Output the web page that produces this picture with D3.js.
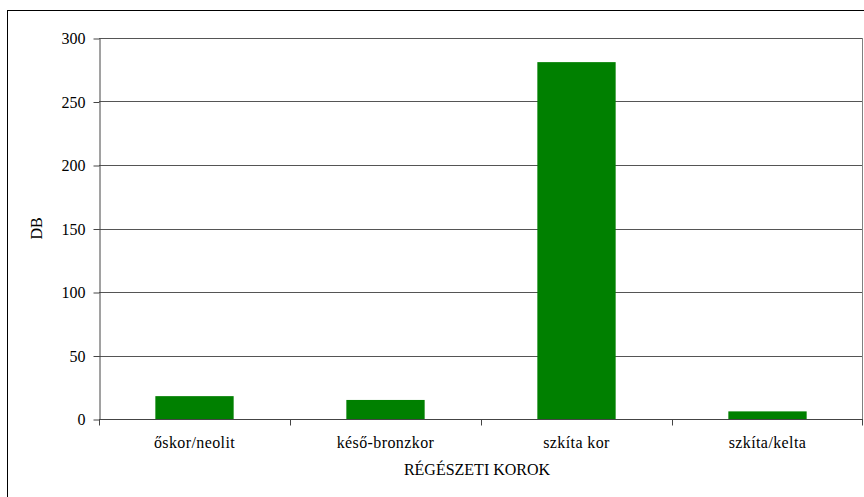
<!DOCTYPE html>
<html>
<head>
<meta charset="utf-8">
<script src="https://cdn.jsdelivr.net/npm/d3@7"></script>
<style>
  html, body { margin: 0; padding: 0; background: #fff; }
  svg { display: block; }
</style>
</head>
<body>
<script>
// Leletek száma régészeti korok szerint
const categories = ["őskor/neolit", "késő-bronzkor", "szkíta kor", "szkíta/kelta"];
const counts = [18, 15, 281, 6];
const yTicks = [0, 50, 100, 150, 200, 250, 300];
const yTitle = "DB";
const xTitle = "RÉGÉSZETI KOROK";

const W = 864, H = 497;
const plot = { left: 99, right: 863, top: 38, bottom: 419 };
const FONT = "'Liberation Serif', 'Times New Roman', Times, serif";

const svg = d3.select("body").append("svg")
  .attr("width", W).attr("height", H)
  .style("font-family", FONT);

// outer chart frame
svg.append("rect")
  .attr("x", 7.5).attr("y", 10.5)
  .attr("width", 900).attr("height", 600)
  .attr("fill", "#fff").attr("stroke", "#000").attr("stroke-width", 1);

const x = d3.scaleBand().domain(categories)
  .range([plot.left, plot.right]).paddingInner(0.59).paddingOuter(0.295);
const xOuter = d3.scaleBand().domain(categories)
  .range([plot.left, plot.right]);
const y = d3.scaleLinear().domain([0, 300]).range([plot.bottom, plot.top]);

// horizontal gridlines
svg.append("g").selectAll("line")
  .data(yTicks.filter(d => d > 0))
  .join("line")
  .attr("x1", plot.left).attr("x2", plot.right)
  .attr("y1", d => Math.round(y(d)) + 0.5).attr("y2", d => Math.round(y(d)) + 0.5)
  .attr("stroke", "#555").attr("stroke-width", 1);

// right border of plot area
svg.append("line")
  .attr("x1", plot.right - 0.5).attr("x2", plot.right - 0.5)
  .attr("y1", plot.top).attr("y2", plot.bottom)
  .attr("stroke", "#808080").attr("stroke-width", 1);

// bars
svg.append("g").selectAll("rect")
  .data(categories)
  .join("rect")
  .attr("x", d => x(d))
  .attr("width", x.bandwidth())
  .attr("y", (d, i) => y(counts[i]))
  .attr("height", (d, i) => y(0) - y(counts[i]))
  .attr("fill", "#008000");

// y axis
const yAxis = d3.axisLeft(y).tickValues(yTicks).tickSize(6).tickPadding(8).tickSizeOuter(0);
const gy = svg.append("g")
  .attr("transform", `translate(${plot.left + 0.5},0.5)`)
  .call(yAxis)
  .attr("font-family", null).attr("font-size", null);
gy.select(".domain").attr("stroke", "#444");
gy.selectAll(".tick line").attr("stroke", "#444");
gy.selectAll(".tick text")
  .style("font-family", FONT).style("font-size", "16px").attr("fill", "#000");

// x axis: ticks on category boundaries
const gx = svg.append("g").attr("transform", `translate(0,${plot.bottom + 0.5})`);
gx.append("line")
  .attr("x1", plot.left).attr("x2", plot.right)
  .attr("stroke", "#444");
const bounds = categories.map(c => xOuter(c)).concat([plot.right - 1]);
gx.selectAll("line.tick")
  .data(bounds)
  .join("line").attr("class", "tick")
  .attr("x1", d => Math.round(d) + 0.5).attr("x2", d => Math.round(d) + 0.5)
  .attr("y1", 0).attr("y2", 6)
  .attr("stroke", "#444");
gx.selectAll("text")
  .data(categories)
  .join("text")
  .attr("x", d => xOuter(d) + xOuter.bandwidth() / 2)
  .attr("y", 28)
  .attr("text-anchor", "middle")
  .style("font-family", FONT).style("font-size", "16px")
  .attr("letter-spacing", 0.4)
  .text(d => d);

// axis titles
svg.append("text")
  .attr("x", (plot.left + plot.right) / 2 - 4)
  .attr("y", 475)
  .attr("text-anchor", "middle")
  .style("font-family", FONT).style("font-size", "16px")
  .text(xTitle);

svg.append("text")
  .attr("transform", `translate(42,${(plot.top + plot.bottom) / 2}) rotate(-90)`)
  .attr("text-anchor", "middle")
  .style("font-family", FONT).style("font-size", "16px")
  .text(yTitle);
</script>
</body>
</html>
